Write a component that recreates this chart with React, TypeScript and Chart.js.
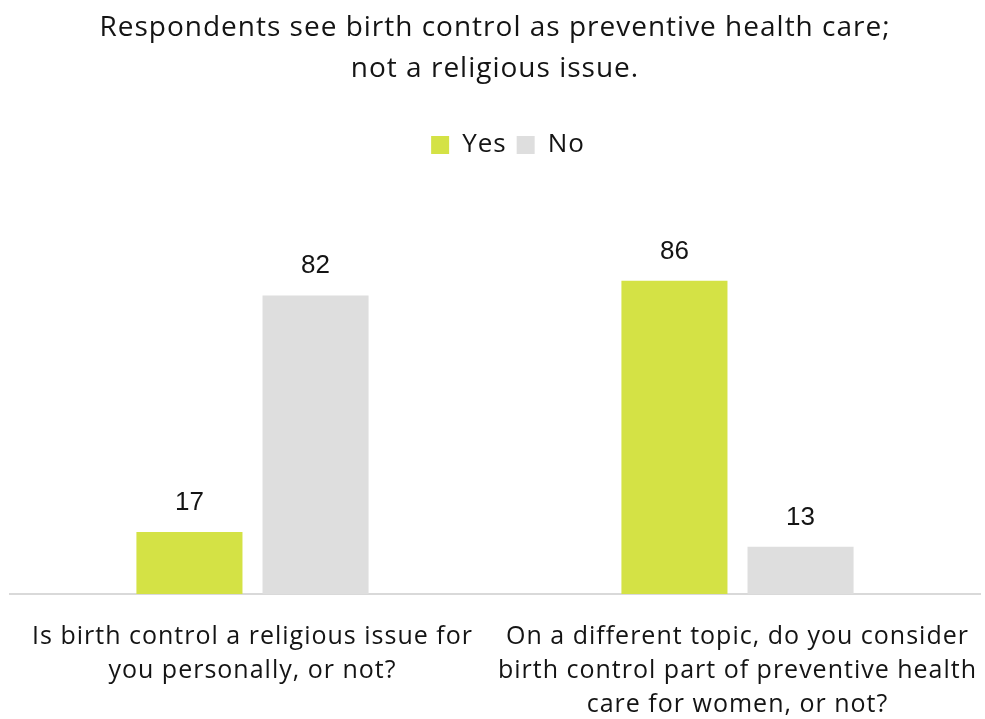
import React, { useEffect, useRef } from "react";
import { Chart, registerables } from "chart.js";

Chart.register(...registerables);

const titleLines = ["Respondents see birth control as preventive health care;", "not a religious issue."];
const categories = [
  ["Is birth control a religious issue for", "you personally, or not?"],
  ["On a different topic, do you consider", "birth control part of preventive health", "care for women, or not?"],
];
const seriesNames = ["Yes", "No"];
const yesValues = [17, 86];
const noValues = [82, 13];

const FONT = "'Open Sans', sans-serif";
const NUM_FONT = "'Liberation Sans', Arial, sans-serif";
const TEXT = "#141414";

const spacing = {
  id: "spacing",
  beforeUpdate(chart: any) {
    chart.ctx.letterSpacing = "1px";
  },
  afterLayout(chart: any) {
    if (chart.legend) {
      chart.legend.left += 13;
      chart.legend.right += 13;
    }
  },
  beforeDraw(chart: any) {
    chart.ctx.letterSpacing = "1px";
  },
};

const valueLabels = {
  id: "valueLabels",
  afterDatasetsDraw(chart: any) {
    const ctx = chart.ctx;
    ctx.save();
    ctx.letterSpacing = "0px";
    ctx.font = `26px ${NUM_FONT}`;
    ctx.fillStyle = TEXT;
    ctx.textAlign = "center";
    ctx.textBaseline = "alphabetic";
    chart.data.datasets.forEach((ds: any, i: number) => {
      const meta = chart.getDatasetMeta(i);
      meta.data.forEach((bar: any, j: number) => {
        ctx.fillText(String(ds.data[j]), bar.x, bar.y - 22);
      });
    });
    ctx.restore();
  },
};

export default function App() {
  const ref = useRef<HTMLCanvasElement>(null);
  useEffect(() => {
    if (!ref.current) return;
    const chart = new Chart(ref.current, {
      type: "bar",
      data: {
        labels: categories,
        datasets: [
          { label: seriesNames[0], data: yesValues, backgroundColor: "#D4E245" },
          { label: seriesNames[1], data: noValues, backgroundColor: "#DEDEDE" },
        ],
      },
      options: {
        animation: false,
        responsive: false,
        layout: { padding: { left: 10, right: 5, top: 0, bottom: 0 } },
        datasets: { bar: { categoryPercentage: 0.52, barPercentage: 0.841 } } as any,
        plugins: {
          title: {
            display: true,
            text: titleLines,
            color: TEXT,
            font: { family: FONT, size: 28, weight: "normal", lineHeight: 1.464 },
            padding: { top: 8, bottom: 32 },
          },
          legend: {
            display: true,
            labels: {
              color: TEXT,
              font: { family: FONT, size: 26 },
              boxWidth: 18,
              boxHeight: 18,
              padding: 10,
            },
          },
          tooltip: { enabled: false },
        },
        scales: {
          x: {
            grid: { display: false, drawTicks: false },
            border: { color: "#D9D9D9", width: 2 },
            afterFit: (scale: any) => {
              scale.height = 125;
              scale.paddingLeft = 0;
              scale.paddingRight = 0;
            },
            ticks: {
              color: TEXT,
              font: { family: FONT, size: 25, lineHeight: 1.36 },
              padding: 26,
              autoSkip: false,
              maxRotation: 0,
            },
          },
          y: {
            display: false,
            min: 0,
            max: 117,
          },
        },
      },
      plugins: [spacing, valueLabels],
    });
    return () => chart.destroy();
  }, []);
  return (
    <div style={{ position: "fixed", left: 0, top: 0, width: 985, height: 719, background: "#fff" }}>
      <canvas ref={ref} width={985} height={719} style={{ width: 985, height: 719 }} />
    </div>
  );
}
